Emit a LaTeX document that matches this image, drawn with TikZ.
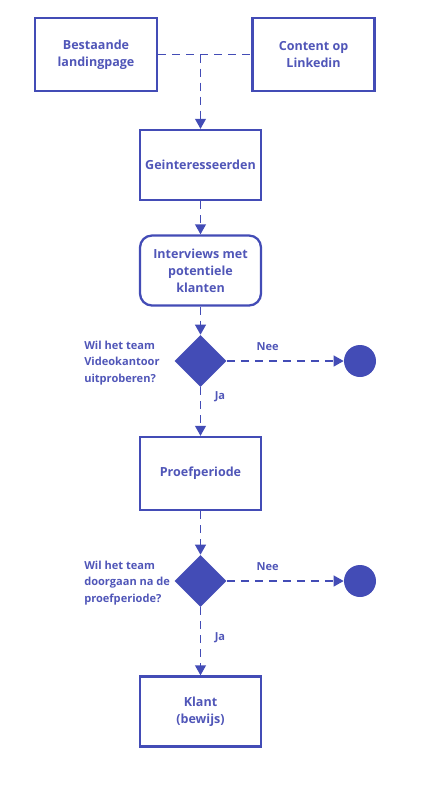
\documentclass[tikz,border=0pt]{standalone}
\usepackage{fontspec}
\setmainfont{Open Sans}
\usetikzlibrary{arrows.meta,shapes.geometric,positioning}
\definecolor{main}{HTML}{434CB6}
\definecolor{txt}{HTML}{5056B8}
\begin{document}
\begin{tikzpicture}[x=0.75pt,y=-0.75pt,
  every node/.style={font=\fontsize{9.4pt}{12.6pt}\selectfont\bfseries, text=txt},
  box/.style={draw=main, line width=1.7pt, fill=white, minimum width=121*0.75pt, minimum height=70*0.75pt, align=center, inner sep=0pt},
  rbox/.style={box, rounded corners=9pt},
  dia/.style={diamond, fill=main, draw=none, minimum width=52*0.75pt, minimum height=52*0.75pt, inner sep=0pt},
  term/.style={circle, fill=main, draw=none, minimum size=32*0.75pt, inner sep=0pt},
  conn/.style={draw=main, line width=1.4pt, dash pattern=on 6pt off 4.5pt},
  arr/.style={conn, -{Triangle[length=7.5pt,width=8pt]}},
  lbl/.style={font=\fontsize{8.3pt}{12.2pt}\selectfont\bfseries, inner sep=0pt}
]
\useasboundingbox (0,0) rectangle (427,794);
\node[box, minimum width=122*0.75pt, minimum height=73*0.75pt] (b1) at (96,54.5) {Bestaande\\landingpage};
\node[box, minimum width=122*0.75pt, minimum height=73*0.75pt] (b2) at (313.5,54.5) {Content op\\Linkedin};
\node[box] (g) at (200.5,165) {Geinteresseerden};
\node[rbox] (i) at (200.5,270.5) {Interviews met\\potentiele\\klanten};
\node[dia] (d1) at (200.5,361) {};
\node[term] (c1) at (360,361) {};
\node[box, minimum height=73*0.75pt] (p) at (200.5,473.5) {Proefperiode};
\node[dia] (d2) at (200.5,581) {};
\node[term] (c2) at (360,581) {};
\node[box] (k) at (200.5,711.5) {Klant\\(bewijs)};

\node[lbl, anchor=west, align=left] (q1) at (84,363) {Wil het team\\Videokantoor\\uitproberen?};
\node[lbl, anchor=west, align=left] (q2) at (84,583) {Wil het team\\doorgaan na de\\proefperiode?};

\coordinate (j) at (200.5,54.5);
\path[conn] (b1.east) -- (b2.west);
\path[arr] (j) -- (g.north);
\path[arr] (g.south) -- (i.north);
\path[arr] (i.south) -- (d1.north);
\path[arr] (d1.east) -- node[lbl, above=7pt, pos=0.35] (n1) {Nee} (c1.west);
\path[arr] (d1.south) -- node[lbl, right=10pt, pos=0.2] (y1) {Ja} (p.north);
\path[arr] (p.south) -- (d2.north);
\path[arr] (d2.east) -- node[lbl, above=7pt, pos=0.35] (n2) {Nee} (c2.west);
\path[arr] (d2.south) -- node[lbl, right=10pt, pos=0.45] (y2) {Ja} (k.north);
\end{tikzpicture}
\end{document}
